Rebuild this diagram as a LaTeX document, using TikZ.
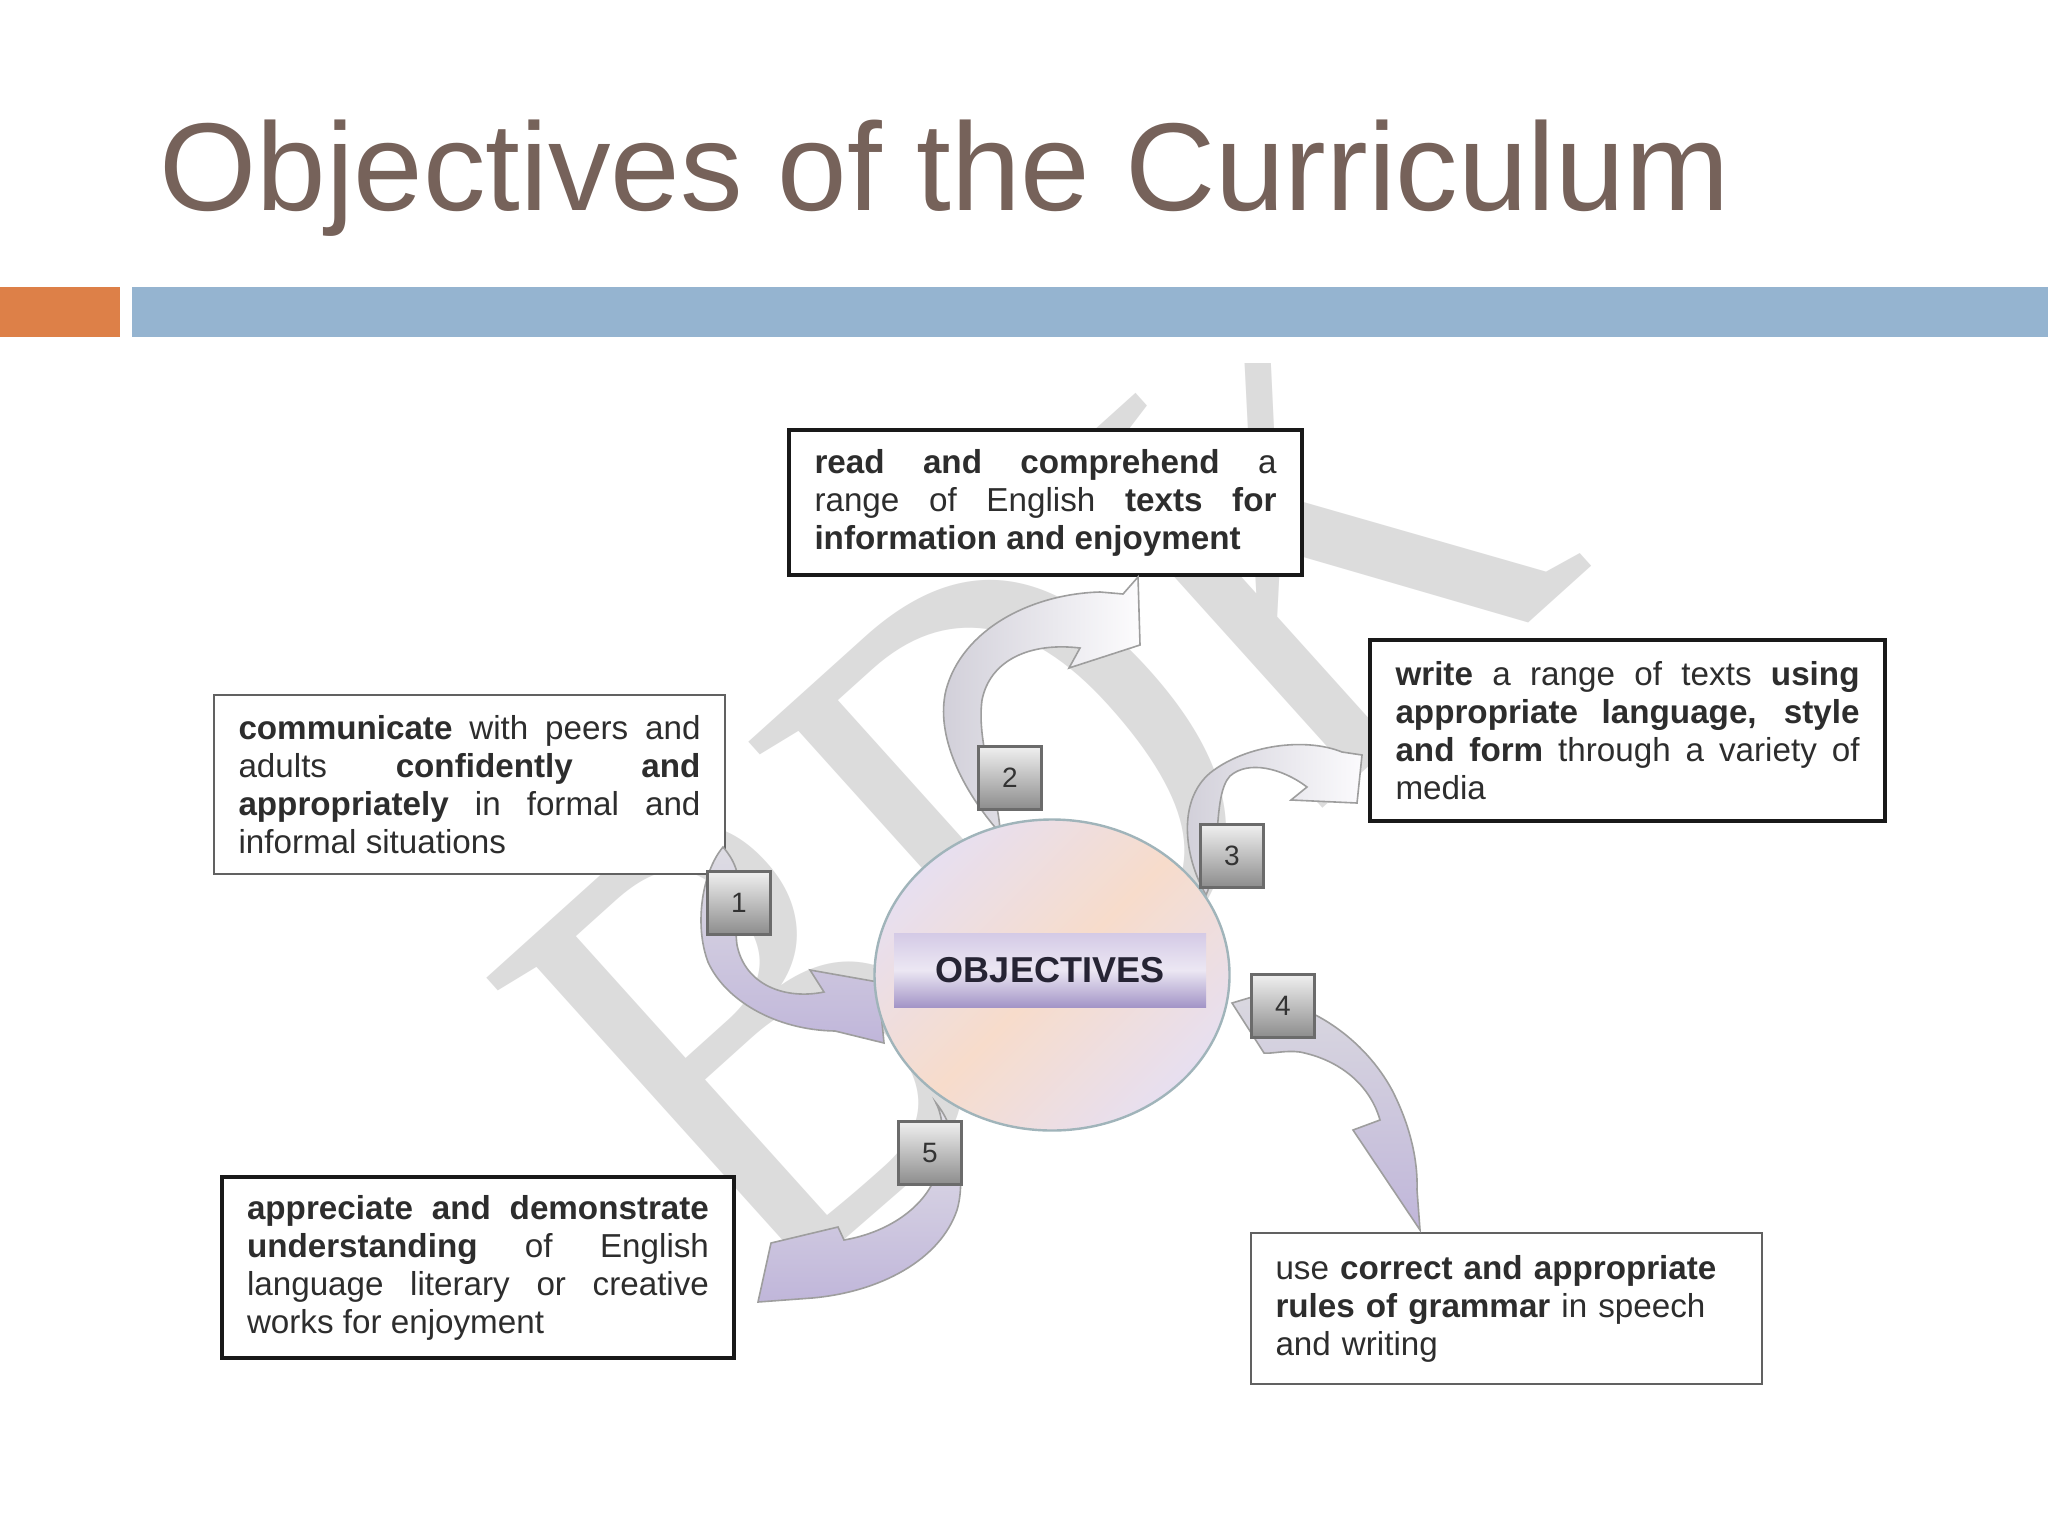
\documentclass[tikz,border=0pt]{standalone}
\usepackage{fontspec}
\setmainfont{Liberation Sans}
\newfontfamily\wmfont{Liberation Serif}
\usetikzlibrary{shapes.geometric}
\definecolor{titlecol}{RGB}{118,98,90}
\definecolor{orangebar}{RGB}{221,128,72}
\definecolor{bluebar}{RGB}{149,180,208}
\definecolor{lav}{RGB}{192,182,218}
\definecolor{lavgray}{RGB}{208,206,216}
\definecolor{peach}{RGB}{247,220,203}
\definecolor{circlav}{RGB}{231,223,240}
\definecolor{circborder}{RGB}{160,180,186}
\definecolor{banTop}{RGB}{212,202,230}
\definecolor{banMid}{RGB}{236,231,243}
\definecolor{banBot}{RGB}{163,149,199}
\definecolor{wm}{RGB}{220,220,220}
\definecolor{txt}{RGB}{45,45,45}
\definecolor{objtext}{RGB}{38,36,52}
\newcommand{\boxfont}{\fontsize{16.6pt}{19pt}\selectfont}
\begin{document}
\begin{tikzpicture}[x=0.5pt,y=-0.5pt,
  textbox/.style={fill=white, inner sep=0pt, font=\boxfont, text=txt, align=justify},
  thickbox/.style={textbox, draw=black!90, line width=2pt},
  thinbox/.style={textbox, draw=black!62, line width=1.2pt},
  numbox/.style={draw=black!58, line width=1.4pt, top color=white!94!black, bottom color=black!45,
    minimum width=31.5pt, minimum height=31.5pt, inner sep=0pt,
    font=\fontsize{14pt}{16pt}\selectfont, text=black!80},
  carrow/.style={draw=black!38, line width=0.8pt},
]
\useasboundingbox (0,0) rectangle (2048,1536);
\fill[white] (0,0) rectangle (2048,1536);

% watermark
\begin{scope}
\clip (200,363) rectangle (1950,1480);
\node[rotate=42, xscale=0.8, anchor=base west, inner sep=0pt, text=wm,
  font=\wmfont\fontsize{331pt}{331pt}\selectfont] (wmark) at (765,1311) {BDK};
\end{scope}

% title and bars
\node[anchor=base west, inner sep=0pt, text=titlecol, font=\fontsize{62.5pt}{70pt}\selectfont]
  (title) at (159,210) {Objectives of the Curriculum};
\fill[orangebar] (0,287) rectangle (120,337);
\fill[bluebar] (132,287) rectangle (2048,337);

% text boxes
\node[thickbox, minimum width=256.5pt, minimum height=72.5pt, text width=231pt] (read) at (1045.5,502.5)
 {\textbf{read and comprehend} a\linebreak range of English \textbf{texts for}\linebreak \textbf{information and enjoyment}};
\node[thickbox, minimum width=257.5pt, minimum height=90.5pt, text width=232pt] (write) at (1627.5,730.5)
 {\textbf{write} a range of texts \textbf{using}\linebreak \textbf{appropriate language, style}\linebreak \textbf{and form} through a variety of\linebreak media};
\node[thinbox, minimum width=255.5pt, minimum height=89.5pt, text width=231pt] (comm) at (469.5,784.5)
 {\textbf{communicate} with peers and\linebreak adults \textbf{confidently and}\linebreak \textbf{appropriately} in formal and\linebreak informal situations};
\node[thickbox, minimum width=256pt, minimum height=90.5pt, text width=231pt] (appr) at (478,1267.5)
 {\textbf{appreciate and demonstrate}\linebreak \textbf{understanding} of English\linebreak language literary or creative\linebreak works for enjoyment};
\node[thinbox, align=left, minimum width=255.5pt, minimum height=75.5pt, text width=231pt] (use) at (1506.5,1308.5)
 {use \textbf{correct and appropriate}\\ \textbf{rules of grammar} in speech\\ and writing};

% curved block arrows
\draw[carrow, top color=lavgray!70!white, bottom color=lav]
 (723,847) .. controls (702,872) and (694,925) .. (708,962)
 .. controls (725,1000) and (775,1030) .. (835,1031)
 -- (884,1043) -- (878,982) -- (810,970) -- (824,992)
 .. controls (785,1000) and (745,985) .. (737,945)
 .. controls (732,910) and (752,880) .. (723,847) -- cycle;
\draw[carrow, left color=lavgray, right color=white!96!lav]
 (1000,833) .. controls (962,790) and (935,735) .. (946,690)
 .. controls (962,630) and (1030,594) .. (1100,592)
 -- (1123,594) -- (1138,577) -- (1140,645) -- (1069,668) -- (1080,648)
 .. controls (1030,642) and (990,660) .. (982,700)
 .. controls (976,745) and (1000,800) .. (1000,833) -- cycle;
\draw[carrow, left color=lavgray, right color=white!94!lav]
 (1206,895) .. controls (1183,855) and (1178,800) .. (1210,773)
 .. controls (1245,745) and (1305,737) .. (1342,752)
 -- (1362,755) -- (1357,803) -- (1291,800) -- (1307,787)
 .. controls (1282,768) and (1248,760) .. (1230,776)
 .. controls (1212,795) and (1222,860) .. (1206,895) -- cycle;
\draw[carrow, top color=lavgray!80!white, bottom color=lav]
 (1232,1003) -- (1252,997)
 .. controls (1310,1000) and (1365,1040) .. (1392,1090)
 .. controls (1410,1125) and (1418,1160) .. (1417,1190)
 -- (1420,1230) -- (1353,1130) -- (1380,1120)
 .. controls (1370,1085) and (1340,1060) .. (1300,1052)
 .. controls (1285,1050) and (1272,1054) .. (1264,1053) -- cycle;
\draw[carrow, top color=lavgray!60!white, bottom color=lav]
 (936,1103) .. controls (958,1130) and (966,1180) .. (957,1210)
 .. controls (940,1260) and (880,1292) .. (812,1298)
 -- (758,1302) -- (771,1243) -- (838,1227) -- (844,1240)
 .. controls (890,1232) and (922,1207) .. (934,1180)
 .. controls (945,1150) and (945,1120) .. (936,1103) -- cycle;

% central circle
\node[ellipse, draw=circborder, line width=1.2pt, minimum width=177.5pt, minimum height=155.5pt,
  left color=circlav, right color=circlav, middle color=peach, shading angle=45] (obj) at (1052,975) {};
\node[minimum width=156pt, minimum height=37pt, inner sep=0pt,
  top color=banTop, bottom color=banBot, middle color=banMid,
  font=\bfseries\fontsize{18pt}{20pt}\selectfont, text=objtext] (ban) at (1050,970) {OBJECTIVES};

% number boxes
\node[numbox] (n1) at (739,903) {1};
\node[numbox] (n2) at (1010,778) {2};
\node[numbox] (n3) at (1232,856) {3};
\node[numbox] (n4) at (1283,1006) {4};
\node[numbox] (n5) at (930,1153) {5};
\end{tikzpicture}
\end{document}
